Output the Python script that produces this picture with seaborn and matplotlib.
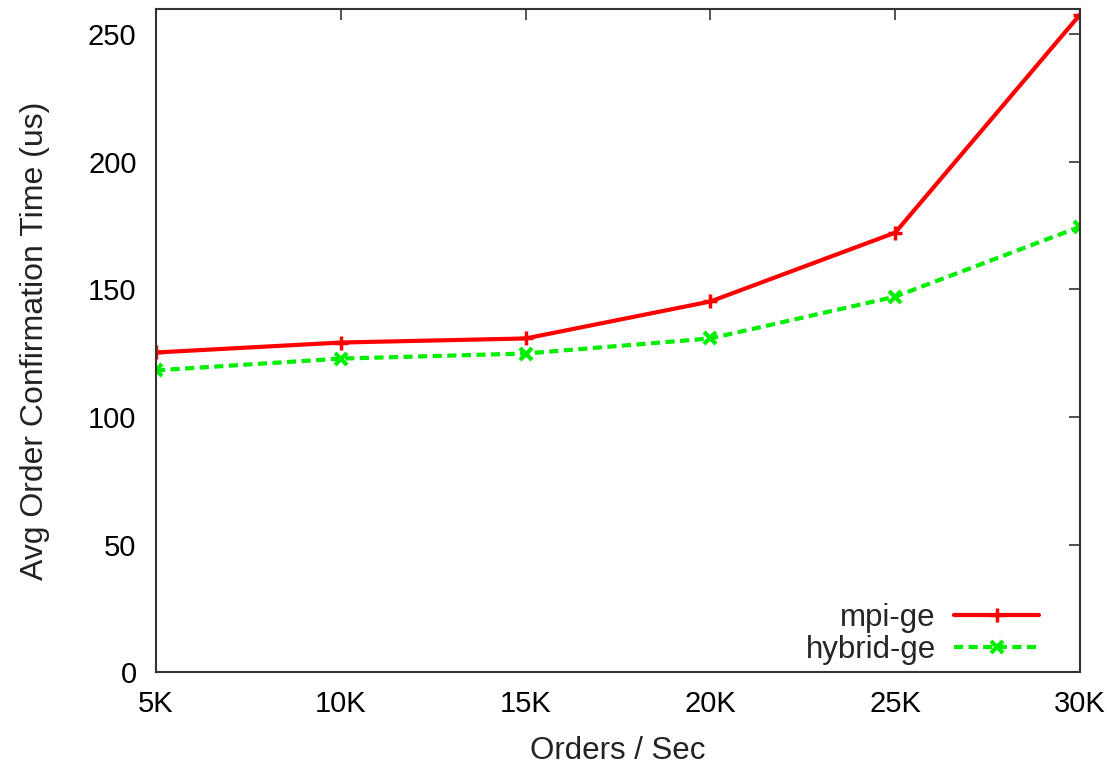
import matplotlib
matplotlib.use("Agg")
import matplotlib.pyplot as plt
import seaborn as sns
import pandas as pd

x_labels = ["5K", "10K", "15K", "20K", "25K", "30K"]
x_values = [5, 10, 15, 20, 25, 30]
mpi_ge = [125.3, 129.2, 130.8, 145.3, 172.3, 257.8]
hybrid_ge = [118.3, 122.9, 124.9, 130.8, 147.2, 174.6]

df = pd.concat([
    pd.DataFrame({"x": x_values, "y": mpi_ge, "series": "mpi-ge"}),
    pd.DataFrame({"x": x_values, "y": hybrid_ge, "series": "hybrid-ge"}),
])

sns.set_theme(style="white")
plt.rcParams["font.family"] = ["Liberation Sans", "DejaVu Sans"]

FS = 21
fig = plt.figure(figsize=(11.07, 7.65), dpi=100)
ax = fig.add_axes([156/1107, 93/765, (1080-156)/1107, (672-9)/765])

sns.lineplot(data=df[df.series == "mpi-ge"], x="x", y="y", ax=ax, color="#ff0000",
             linewidth=3, marker="+", markersize=10, markeredgewidth=2.5,
             markeredgecolor="#ff0000", label="mpi-ge", legend=False)
sns.lineplot(data=df[df.series == "hybrid-ge"], x="x", y="y", ax=ax, color="#00ee00",
             linewidth=3, linestyle=(0, (2.2, 1.3)), marker="x", markersize=8,
             markeredgewidth=3, markeredgecolor="#00ee00", label="hybrid-ge", legend=False)

ax.set_xlim(5, 30)
ax.set_ylim(0, 260)
ax.set_xticks(x_values)
ax.set_xticklabels(x_labels)
ax.set_yticks([0, 50, 100, 150, 200, 250])
ax.tick_params(axis="both", direction="in", length=8, width=1.2, labelsize=FS,
               top=True, right=True, colors="#333333", labelcolor="black")
ax.tick_params(axis="y", pad=14)
ax.tick_params(axis="x", pad=13)
for s in ax.spines.values():
    s.set_color("#333333")
    s.set_linewidth(1.5)
ax.set_xlabel("Orders / Sec", fontsize=22.5, labelpad=13, color="#222222")
ax.set_ylabel("Avg Order Confirmation Time (us)", fontsize=23, labelpad=27, color="#222222")

leg = ax.legend(loc="lower right", frameon=False, fontsize=22.5, markerfirst=False,
                handlelength=2.7, handletextpad=0.6, borderaxespad=0.0,
                labelspacing=0.05, bbox_to_anchor=(0.969, -0.008))
for t in leg.get_texts():
    t.set_ha("right")

fig.savefig("out.png", dpi=100)
